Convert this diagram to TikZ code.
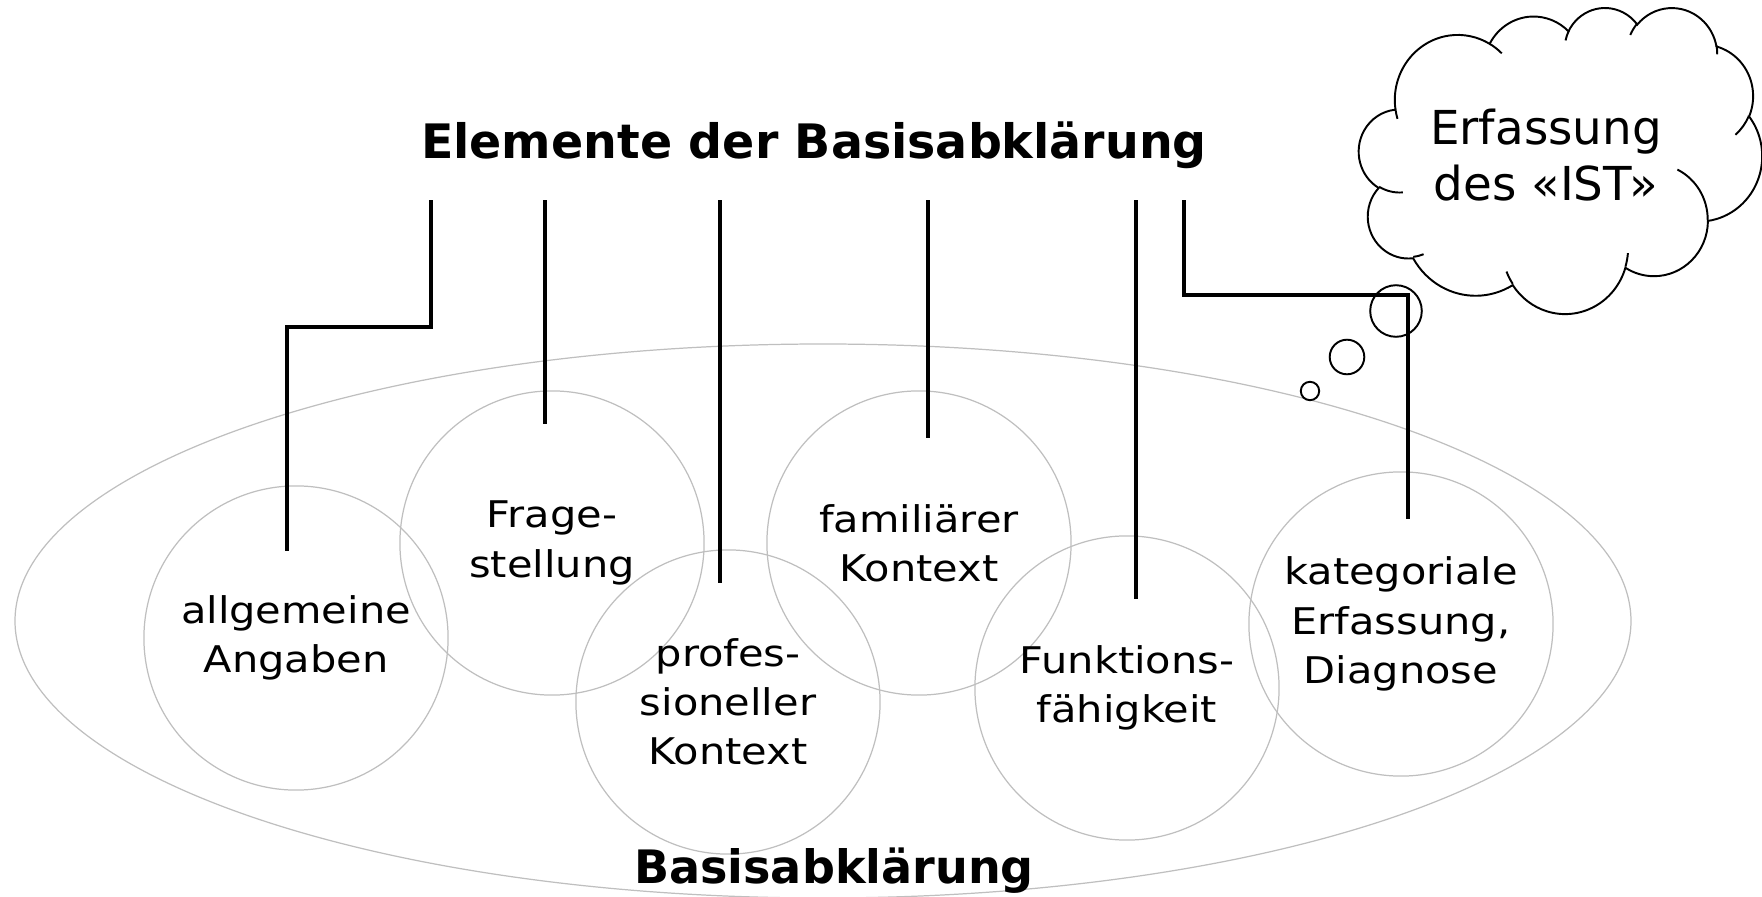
\documentclass[tikz,border=0pt]{standalone}
\usepackage{fontspec}
\setmainfont{DejaVu Sans}
\newfontfamily\circfont[FakeStretch=1.13]{DejaVu Sans}
\usepackage{tikz}
\usetikzlibrary{calc}

% arc of the cloud: x radius, y radius, start and sweep angle
\newcommand\cloudarc[4]{%
  \pgfextra{%
    \pgfmathsetmacro\cas{atan2(#1*sin(#3),#2*cos(#3))}\global\let\cas\cas
    \pgfmathsetmacro\cae{atan2(#1*sin(#3+#4),#2*cos(#3+#4))}\global\let\cae\cae
    \pgfmathsetmacro\cad{mod(\cae-\cas+720,360)}\global\let\cad\cad}%
  arc[start angle=\cas, delta angle=\cad, x radius=#1, y radius=#2]}

\begin{document}
\begin{tikzpicture}[x=0.01cm,y=-0.01cm,
    elem/.style={circle,draw=gray!50,line width=0.35pt,minimum size=3.04cm,inner sep=0pt,
      align=center,font=\circfont\fontsize{10.45}{14}\selectfont},
    conn/.style={line width=0.95pt},
    cloudline/.style={line width=0.55pt}]
                \useasboundingbox (0,0) rectangle (1762,897);
                \draw[gray!50,line width=0.35pt] (823,621) ellipse [x radius=808, y radius=277];
                \node[elem] (allg)  at (296,638)  {allgemeine\\Angaben};
                \node[elem] (frage) at (552,543)  {Frage-\\stellung};
                \node[elem] (prof)  at (728,702)  {profes-\\sioneller\\Kontext};
                \node[elem] (fam)   at (919,543)  {familiärer\\Kontext};
                \node[elem] (funk)  at (1127,688) {Funktions-\\fähigkeit};
                \node[elem] (kat)   at (1401,624) {kategoriale\\Erfassung,\\Diagnose};
                \node[anchor=base,font=\bfseries\fontsize{13.5}{16}\selectfont] (title) at (814,159) {Elemente der Basisabklärung};
                \node[anchor=base,font=\bfseries\fontsize{13.1}{15}\selectfont] (basis) at (834,883) {Basisabklärung};
                \coordinate (t1) at (431,200);
                \coordinate (t2) at (545,200);
                \coordinate (t3) at (720,200);
                \coordinate (t4) at (928,200);
                \coordinate (t5) at (1136,200);
                \coordinate (t6) at (1184,200);
                \coordinate (e1) at (287,551);
                \coordinate (e2) at (545,424);
                \coordinate (e3) at (720,583);
                \coordinate (e4) at (928,438);
                \coordinate (e5) at (1136,599);
                \coordinate (e6) at (1408,519);
                \draw[conn] (t1) -- (431,327) -| (e1);
                \draw[conn] (t2) -- (e2);
                \draw[conn] (t3) -- (e3);
                \draw[conn] (t4) -- (e4);
                \draw[conn] (t5) -- (e5);
                \draw[conn] (t6) -- (1184,295) -| (e6);
                \begin{scope}[shift={(1359,7)},xscale=0.9329,yscale=0.7083]
                \draw[cloudline] (39,143.7) \cloudarc{67.53}{91.90}{-190.487}{123.781}
                    \cloudarc{53.33}{72.67}{-144.102}{89.945} \cloudarc{43.65}{59.45}{-145.808}{99.723}
                    \cloudarc{48.57}{65.95}{-130.986}{117.242} \cloudarc{53.33}{72.73}{-78.709}{109.027}
                    \cloudarc{67.75}{92.20}{-46.267}{130.269} \cloudarc{57.85}{78.67}{0.625}{114.033}
                    \cloudarc{67.52}{92.15}{22.452}{115.173} \cloudarc{77.20}{105.43}{66.243}{75.711}
                    \cloudarc{43.60}{59.18}{-274.942}{146.736} \cloudarc{43.45}{59.45}{-246.829}{152.519} -- cycle;
                \draw[cloudline] (46.93,261.77) \cloudarc{43.45}{59.45}{86.742}{26.430}
                    (69.28,348.99) \cloudarc{43.60}{59.18}{73.610}{11.447}
                    (164.78,390.90) \cloudarc{67.52}{92.15}{137.624}{14.081}
                    (288.27,347.51) \cloudarc{67.52}{92.15}{6.453}{15.998}
                    (341.29,229.54) \cloudarc{57.85}{78.67}{-70.292}{70.917}
                    (417.98,153.54) \cloudarc{53.33}{72.73}{30.318}{27.752}
                    (383.24,54.26) \cloudarc{48.57}{65.95}{-13.744}{14.859}
                    (290.78,39.52) \cloudarc{48.57}{65.95}{-149.181}{18.195}
                    (221.41,47.20) \cloudarc{43.65}{59.45}{-163.494}{17.696}
                    (140.00,51.92) \cloudarc{67.53}{91.90}{-66.707}{12.319}
                    (41.27,157.89) \cloudarc{67.53}{91.90}{157.654}{11.858};
                \end{scope}
                \node[align=center,font=\fontsize{13.3}{15.9}\selectfont] (ist) at (1546,155) {Erfassung\\des «IST»};
                \draw[cloudline] (1396,311) circle (25.8) (1347,357) circle (17.3) (1310,391) circle (9.2);
                % \draw[red] (1359,7) rectangle (1762,313);
            \end{tikzpicture}
\end{document}
